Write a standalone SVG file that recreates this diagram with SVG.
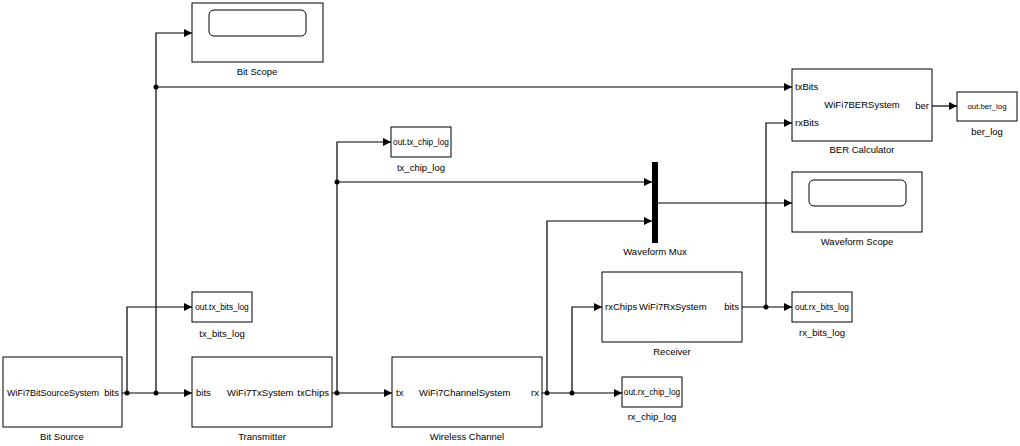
<svg xmlns="http://www.w3.org/2000/svg" width="1020" height="446" viewBox="0 0 1020 446">
<style>
.blk{fill:#fff;stroke:#000;stroke-width:1}
.scr{fill:#fff;stroke:#000;stroke-width:1}
.t{font-family:"Liberation Sans",Arial,sans-serif;font-size:9.5px;fill:#000}
.s{font-family:"Liberation Sans",Arial,sans-serif;font-size:8.3px;fill:#000}
.c{fill:none;stroke:#000;stroke-width:1.2;marker-end:url(#ah)}
.m{text-anchor:middle}
.e{text-anchor:end}
.d{fill:#000}
</style>
<defs>
<marker id="ah" markerUnits="userSpaceOnUse" markerWidth="9" markerHeight="9" refX="8" refY="4" orient="auto">
<path d="M0,0 L8,4 L0,8 z" fill="#000"/>
</marker>
</defs>
<rect width="1020" height="446" fill="#fff"/>
<g id="connectors">
<path class="c" d="M122,393 H192"/>
<path class="c" d="M127,393 V307 H192"/>
<path class="c" d="M156,393 V33 H192"/>
<path class="c" d="M156,87 H792"/>
<path class="c" d="M332,393 H392"/>
<path class="c" d="M337,393 V142 H391"/>
<path class="c" d="M337,182 H652"/>
<path class="c" d="M542,393 H622"/>
<path class="c" d="M547,393 V221 H652"/>
<path class="c" d="M572,393 V307 H602"/>
<path class="c" d="M658,203 H792"/>
<path class="c" d="M742,307 H792"/>
<path class="c" d="M766,307 V123 H792"/>
<path class="c" d="M932,106 H957"/>
<circle class="d" cx="127" cy="393" r="2.5"/>
<circle class="d" cx="156" cy="393" r="2.5"/>
<circle class="d" cx="156" cy="87" r="2.5"/>
<circle class="d" cx="337" cy="393" r="2.5"/>
<circle class="d" cx="337" cy="182" r="2.5"/>
<circle class="d" cx="547" cy="393" r="2.5"/>
<circle class="d" cx="572" cy="393" r="2.5"/>
<circle class="d" cx="766" cy="307" r="2.5"/>
</g>
<g id="bit_source">
<rect class="blk" x="3" y="357" width="119" height="70"/>
<text class="t" x="7" y="396" style="font-size:9px">WiFi7BitSourceSystem</text>
<text class="t e" x="119" y="396">bits</text>
<text class="t m" x="62" y="440">Bit Source</text>
</g>
<g id="transmitter">
<rect class="blk" x="192" y="357" width="140" height="70"/>
<text class="t" x="196" y="396">bits</text>
<text class="t" x="227" y="396">WiFi7TxSystem</text>
<text class="t e" x="329" y="396">txChips</text>
<text class="t m" x="262" y="440">Transmitter</text>
</g>
<g id="tx_bits_log">
<rect class="blk" x="192" y="292" width="60" height="30"/>
<text class="s m" x="222" y="310">out.tx_bits_log</text>
<text class="t m" x="222" y="337">tx_bits_log</text>
</g>
<g id="bit_scope">
<rect class="blk" x="192" y="3" width="131" height="59"/>
<rect class="scr" x="209" y="10" width="97" height="26" rx="5"/>
<text class="t m" x="257" y="75">Bit Scope</text>
</g>
<g id="tx_chip_log">
<rect class="blk" x="391" y="127" width="60" height="30"/>
<text class="s m" x="421" y="145">out.tx_chip_log</text>
<text class="t m" x="421" y="171">tx_chip_log</text>
</g>
<g id="wireless_channel">
<rect class="blk" x="392" y="357" width="150" height="70"/>
<text class="t" x="396" y="396">tx</text>
<text class="t" x="419" y="396">WiFi7ChannelSystem</text>
<text class="t e" x="539" y="396">rx</text>
<text class="t m" x="467" y="440">Wireless Channel</text>
</g>
<g id="rx_chip_log">
<rect class="blk" x="622" y="377" width="60" height="30"/>
<text class="s m" x="652" y="395">out.rx_chip_log</text>
<text class="t m" x="652" y="420">rx_chip_log</text>
</g>
<g id="waveform_mux">
<rect x="652" y="162" width="6" height="81" fill="#000"/>
<text class="t m" x="655" y="255">Waveform Mux</text>
</g>
<g id="receiver">
<rect class="blk" x="602" y="272" width="140" height="70"/>
<text class="t" x="605" y="310">rxChips</text>
<text class="t" x="639" y="310">WiFi7RxSystem</text>
<text class="t e" x="739" y="310">bits</text>
<text class="t m" x="672" y="355">Receiver</text>
</g>
<g id="rx_bits_log">
<rect class="blk" x="792" y="292" width="60" height="30"/>
<text class="s m" x="822" y="310">out.rx_bits_log</text>
<text class="t m" x="822" y="336">rx_bits_log</text>
</g>
<g id="waveform_scope">
<rect class="blk" x="792" y="172" width="130" height="60"/>
<rect class="scr" x="809" y="180" width="97" height="26" rx="5"/>
<text class="t m" x="857" y="245">Waveform Scope</text>
</g>
<g id="ber_calculator">
<rect class="blk" x="792" y="69" width="140" height="72"/>
<text class="t" x="795" y="90">txBits</text>
<text class="t" x="795" y="126">rxBits</text>
<text class="t m" x="862" y="108">WiFi7BERSystem</text>
<text class="t e" x="929" y="109">ber</text>
<text class="t m" x="862" y="153">BER Calculator</text>
</g>
<g id="ber_log">
<rect class="blk" x="957" y="92" width="60" height="29"/>
<text class="s m" x="987" y="109" style="font-size:7.8px">out.ber_log</text>
<text class="t m" x="987" y="135">ber_log</text>
</g>
</svg>
